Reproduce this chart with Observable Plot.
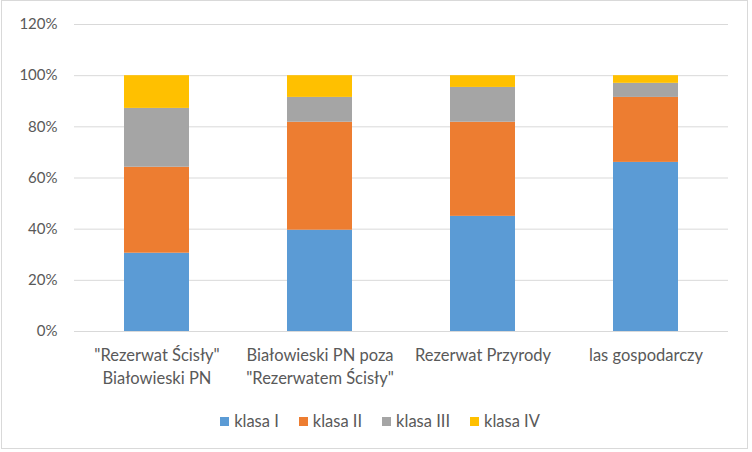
<!DOCTYPE html>
<html>
<head>
<meta charset="utf-8">
<script src="https://cdn.jsdelivr.net/npm/d3@7"></script>
<script src="https://cdn.jsdelivr.net/npm/@observablehq/plot@0.6"></script>
<style>
  html, body { margin: 0; padding: 0; background: #fff; }
  #wrap { position: relative; width: 752px; height: 452px; overflow: hidden; background: #fff; }
  #border { position: absolute; left: 1px; top: 0px; width: 747px; height: 449px; border: 1px solid #d9d9d9; box-sizing: border-box; pointer-events: none; }
  #chart { position: absolute; left: 0; top: 1px; }
  #legend { position: absolute; left: 0; top: 411px; width: 760px; display: flex; justify-content: center; font-family: Lato, "Open Sans", sans-serif; font-size: 16.5px; color: #595959; }
  .item { display: flex; align-items: center; margin: 0 10px; }
  .sw { width: 9px; height: 9px; margin-right: 5px; }
</style>
</head>
<body>
<div id="wrap">
  <div id="chart"></div>
  <div id="legend"></div>
  <div id="border"></div>
</div>
<script>
const categories = [
  "\"Rezerwat Ścisły\"\nBiałowieski PN",
  "Białowieski PN poza\n\"Rezerwatem Ścisły\"",
  "Rezerwat Przyrody",
  "las gospodarczy"
];
const series = ["klasa I", "klasa II", "klasa III", "klasa IV"];
const colors = ["#5b9bd5", "#ed7d31", "#a5a5a5", "#ffc000"];
const klasaI   = [0.306, 0.396, 0.450, 0.661];
const klasaII  = [0.336, 0.422, 0.368, 0.254];
const klasaIII = [0.230, 0.097, 0.136, 0.055];
const klasaIV  = [0.128, 0.085, 0.046, 0.030];
const yTicks = [0, 0.2, 0.4, 0.6, 0.8, 1.0, 1.2];

const seriesValues = [klasaI, klasaII, klasaIII, klasaIV];
const data = [];
series.forEach((s, si) => {
  categories.forEach((c, ci) => data.push({cat: c, klasa: s, value: seriesValues[si][ci]}));
});

const chart = Plot.plot({
  width: 752,
  height: 400,
  marginLeft: 74,
  marginRight: 24,
  marginTop: 23,
  marginBottom: 70,
  style: {fontFamily: "Lato, 'Open Sans', sans-serif", fontSize: "15px", color: "#595959", background: "transparent"},
  x: {domain: categories, paddingInner: 0.6, paddingOuter: 0.3, label: null},
  y: {domain: [0, 1.2], label: null},
  color: {domain: series, range: colors},
  marks: [
    Plot.gridY(yTicks, {stroke: "#d9d9d9", strokeOpacity: 1}),
    Plot.barY(data, {x: "cat", y: "value", fill: "klasa"}),
    Plot.axisY({ticks: yTicks, tickFormat: d3.format(".0%"), tickSize: 0, tickPadding: 17, label: null, fontSize: 15, fill: "#595959"}),
    Plot.axisX({tickSize: 0, tickPadding: 13, label: null, fontSize: 16.5, fill: "#595959", lineHeight: 1.4})
  ]
});
document.getElementById("chart").appendChild(chart);

const legend = document.getElementById("legend");
series.forEach((s, i) => {
  const it = document.createElement("div");
  it.className = "item";
  const sw = document.createElement("span");
  sw.className = "sw";
  sw.style.background = colors[i];
  const t = document.createElement("span");
  t.textContent = s;
  it.appendChild(sw);
  it.appendChild(t);
  legend.appendChild(it);
});
</script>
</body>
</html>
